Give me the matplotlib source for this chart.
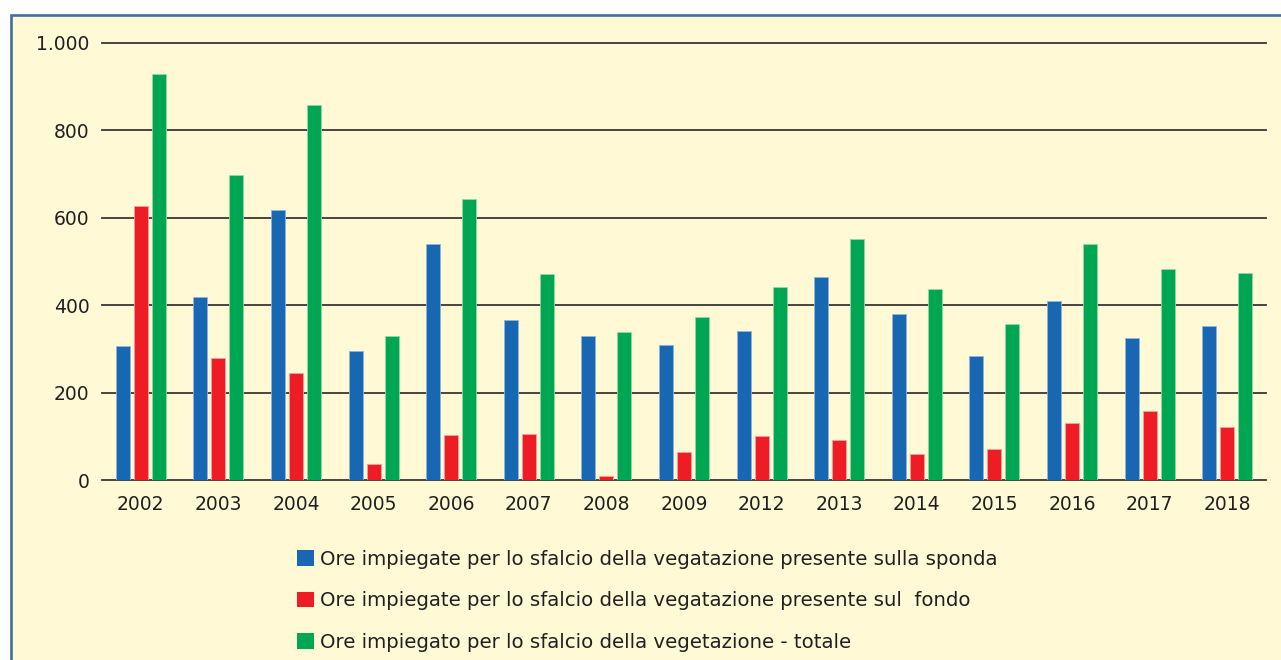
import numpy as np
import matplotlib.pyplot as plt
from matplotlib.patches import Rectangle

# Ore di sfalcio per anno
anni = ["2002", "2003", "2004", "2005", "2006", "2007", "2008", "2009",
        "2012", "2013", "2014", "2015", "2016", "2017", "2018"]
sponda = [306, 418, 617, 296, 540, 365, 330, 310, 341, 464, 380, 284, 409, 325, 352]
fondo = [626, 279, 244, 36, 102, 105, 9, 63, 100, 91, 59, 71, 131, 158, 121]
totale = [930, 698, 858, 330, 642, 471, 339, 372, 442, 551, 437, 356, 540, 483, 474]

etichette = [
    "Ore impiegate per lo sfalcio della vegatazione presente sulla sponda",
    "Ore impiegate per lo sfalcio della vegatazione presente sul  fondo",
    "Ore impiegato per lo sfalcio della vegetazione - totale",
]
colori = ["#1767b3", "#ee1c25", "#00a651"]
bordi = ["#8fb4dc", "#f7a0a0", "#8fd9ad"]
yticks = [0, 200, 400, 600, 800, 1000]
ylabels = ["0", "200", "400", "600", "800", "1.000"]

plt.rcParams['font.family'] = ['DejaVu Sans']

W, H = 1281, 660
fig = plt.figure(figsize=(W / 100, H / 100), dpi=100)
fig.patch.set_facecolor("white")

# riquadro giallo con bordo blu
fig.add_artist(Rectangle((11 / W, -0.1), 1.1, 1 - 15 / H + 0.1,
                         transform=fig.transFigure, facecolor="#fff9d6",
                         edgecolor="#41709a", linewidth=1.9, zorder=0))

ax = fig.add_axes([102 / W, 1 - 480 / H, (1266 - 102) / W, (480 - 43) / H])
ax.set_facecolor("none")

x = np.arange(len(anni))
passo = 0.232
larg = 0.18
for i, serie in enumerate([sponda, fondo, totale]):
    ax.bar(x + (i - 1) * passo, serie, width=larg, color=colori[i],
           edgecolor=bordi[i], linewidth=0.6, label=etichette[i], zorder=3)

ax.set_xlim(-0.5, len(anni) - 0.5)
ax.set_ylim(0, 1000)
ax.set_yticks(yticks)
ax.set_yticklabels(ylabels)
ax.set_xticks(x)
ax.set_xticklabels(anni)
ax.tick_params(length=0, labelsize=13.5, colors="#231f20")
ax.tick_params(axis="x", pad=11)
ax.tick_params(axis="y", pad=9)
ax.grid(axis="y", color="#3a3632", linewidth=1.3)
for gl in ax.get_ygridlines():
    gl.set_clip_on(False)
ax.set_axisbelow(True)
for s in ax.spines.values():
    s.set_visible(False)

handles, labels = ax.get_legend_handles_labels()
leg = fig.legend(handles, labels, loc="upper left",
                 bbox_to_anchor=(297 / W, 1 - 550 / H),
                 frameon=False, fontsize=14.2, handlelength=0.85,
                 handleheight=0.85, handletextpad=0.3, labelspacing=1.13,
                 borderpad=0, borderaxespad=0)
for t in leg.get_texts():
    t.set_color("#231f20")
for p in leg.get_patches():
    p.set_edgecolor("none")

fig.savefig("out.png", dpi=100)
